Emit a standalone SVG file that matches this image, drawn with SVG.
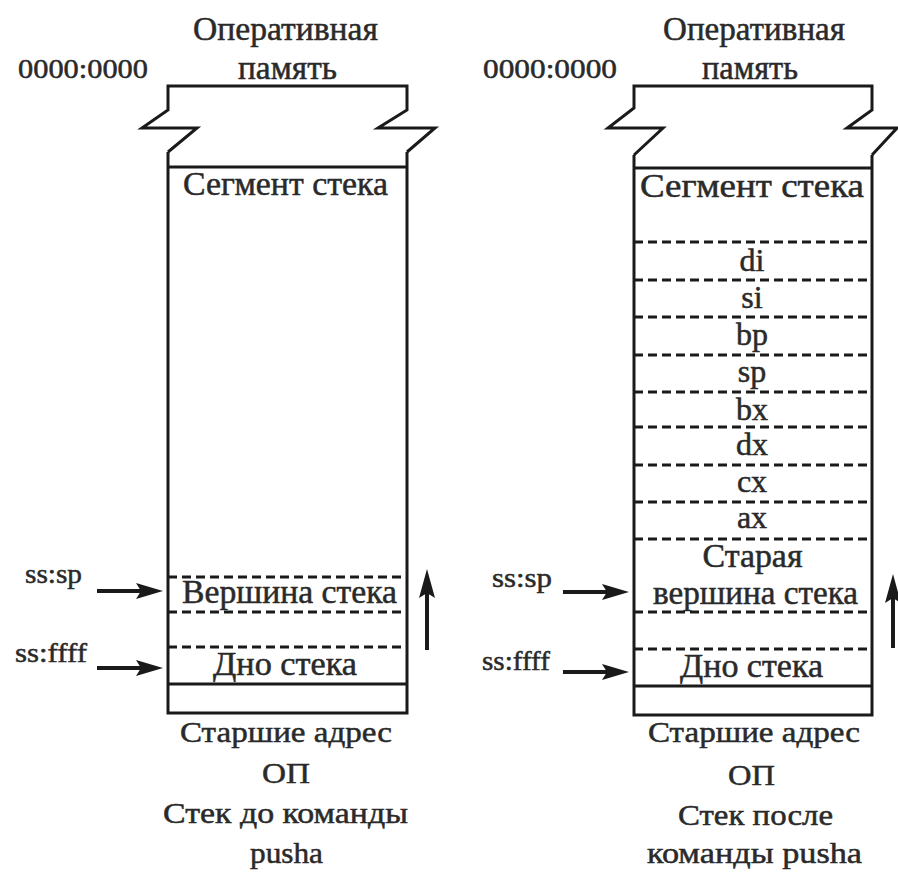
<svg xmlns="http://www.w3.org/2000/svg" width="898" height="873" viewBox="0 0 898 873">
<style>
.ln{stroke:#1a1a1a;stroke-width:3;fill:none;stroke-linejoin:miter}
.ds{stroke:#1a1a1a;stroke-width:3;fill:none;stroke-dasharray:9 5}
.ar{stroke:#1a1a1a;stroke-width:4;fill:none}
.hd{fill:#1a1a1a;stroke:none}
text{fill:#2a2a2a;stroke:#2a2a2a;stroke-width:0.5}
.t{font-size:33px;text-anchor:middle}
.s{font-size:30px;text-anchor:middle}
.r{font-size:32px;text-anchor:middle}
.l{font-size:28px}
</style>
<rect width="898" height="873" fill="#fff"/>

<g id="left-stack" font-family="Liberation Serif, Times New Roman, serif">
<g id="left-memory">
<text class="t" x="285.5" y="40" textLength="185" lengthAdjust="spacingAndGlyphs">Оперативная</text>
<text class="t" x="287.5" y="79" textLength="99" lengthAdjust="spacingAndGlyphs">память</text>
<text class="l" x="18" y="78" textLength="130" lengthAdjust="spacingAndGlyphs">0000:0000</text>
<path class="ln" d="M168,152 L197,128 L142,128 L168,110 L168,86 L407,86 L407,110 L378,128 L435,128 L407,152"/>
</g>
<g id="left-segment">
<path class="ln" d="M168,152 L168,713 L407,713 L407,152"/>
<line class="ln" x1="168" y1="167" x2="407" y2="167"/>
<text class="t" x="285.5" y="195" textLength="205" lengthAdjust="spacingAndGlyphs">Сегмент стека</text>
</g>
<g id="left-top">
<line class="ds" x1="168" y1="577" x2="407" y2="577"/>
<line class="ds" x1="168" y1="612" x2="407" y2="612"/>
<text class="t" x="289.5" y="603" textLength="215" lengthAdjust="spacingAndGlyphs">Вершина стека</text>
</g>
<g id="left-bottom">
<line class="ds" x1="168" y1="647" x2="407" y2="647"/>
<text class="t" x="285" y="675" textLength="144" lengthAdjust="spacingAndGlyphs">Дно стека</text>
<line class="ln" x1="168" y1="684" x2="407" y2="684"/>
</g>
<g id="left-labels">
<text class="l" x="25" y="583" textLength="57" lengthAdjust="spacingAndGlyphs">ss:sp</text>
<text class="l" x="15" y="662" textLength="72" lengthAdjust="spacingAndGlyphs">ss:ffff</text>
<text class="s" x="286" y="742" textLength="212" lengthAdjust="spacingAndGlyphs">Старшие адрес</text>
<text class="s" x="286" y="783" textLength="48" lengthAdjust="spacingAndGlyphs">ОП</text>
<text class="s" x="285.5" y="823" textLength="245" lengthAdjust="spacingAndGlyphs">Стек до команды</text>
<text class="s" x="286.5" y="863" textLength="73" lengthAdjust="spacingAndGlyphs">pusha</text>
</g>
</g>

<g id="right-stack" font-family="Liberation Serif, Times New Roman, serif">
<g id="right-memory">
<text class="t" x="754" y="40" textLength="182" lengthAdjust="spacingAndGlyphs">Оперативная</text>
<text class="t" x="750" y="79" textLength="96" lengthAdjust="spacingAndGlyphs">память</text>
<text class="l" x="483" y="78" textLength="134" lengthAdjust="spacingAndGlyphs">0000:0000</text>
<path class="ln" d="M634,155 L663,128 L608,128 L634,108 L634,86 L872,86 L872,110 L847,128 L897,128 L872,155"/>
</g>
<g id="right-segment">
<path class="ln" d="M634,155 L634,715 L872,715 L872,155"/>
<line class="ln" x1="634" y1="168" x2="872" y2="168"/>
<text class="t" x="752" y="197" textLength="224" lengthAdjust="spacingAndGlyphs">Сегмент стека</text>
</g>
<g id="right-registers">
<line class="ds" x1="634" y1="242" x2="872" y2="242"/>
<text class="r" x="752" y="271">di</text>
<line class="ds" x1="634" y1="280" x2="872" y2="280"/>
<text class="r" x="752" y="308">si</text>
<line class="ds" x1="634" y1="317" x2="872" y2="317"/>
<text class="r" x="752" y="345">bp</text>
<line class="ds" x1="634" y1="355" x2="872" y2="355"/>
<text class="r" x="752" y="382">sp</text>
<line class="ds" x1="634" y1="392" x2="872" y2="392"/>
<text class="r" x="752" y="420">bx</text>
<line class="ds" x1="634" y1="427" x2="872" y2="427"/>
<text class="r" x="752" y="455">dx</text>
<line class="ds" x1="634" y1="465" x2="872" y2="465"/>
<text class="r" x="752" y="492">cx</text>
<line class="ds" x1="634" y1="502" x2="872" y2="502"/>
<text class="r" x="752" y="528">ax</text>
<line class="ds" x1="634" y1="539" x2="872" y2="539"/>
</g>
<g id="right-top">
<text class="t" x="752.5" y="567" textLength="100" lengthAdjust="spacingAndGlyphs">Старая</text>
<text class="t" x="755.5" y="604" textLength="205" lengthAdjust="spacingAndGlyphs">вершина стека</text>
<line class="ds" x1="634" y1="612" x2="872" y2="612"/>
</g>
<g id="right-bottom">
<line class="ds" x1="634" y1="649" x2="872" y2="649"/>
<text class="t" x="751.5" y="677" textLength="143" lengthAdjust="spacingAndGlyphs">Дно стека</text>
<line class="ln" x1="634" y1="686" x2="872" y2="686"/>
</g>
<g id="right-labels">
<text class="l" x="492" y="587" textLength="60" lengthAdjust="spacingAndGlyphs">ss:sp</text>
<text class="l" x="482" y="670" textLength="68" lengthAdjust="spacingAndGlyphs">ss:ffff</text>
<text class="s" x="754" y="742" textLength="212" lengthAdjust="spacingAndGlyphs">Старшие адрес</text>
<text class="s" x="751.5" y="785" textLength="47" lengthAdjust="spacingAndGlyphs">ОП</text>
<text class="s" x="755.5" y="825" textLength="155" lengthAdjust="spacingAndGlyphs">Стек после</text>
<text class="s" x="754.5" y="863" textLength="215" lengthAdjust="spacingAndGlyphs">команды pusha</text>
</g>
</g>

<g id="connectors">
<line class="ar" x1="97" y1="591" x2="145" y2="591"/>
<polygon class="hd" points="163,591 136,583 141,591 136,599"/>
<line class="ar" x1="97" y1="668" x2="145" y2="668"/>
<polygon class="hd" points="163,668 136,660 141,668 136,676"/>
<line class="ar" x1="427" y1="650" x2="427" y2="590"/>
<polygon class="hd" points="427,569 419,598 427,593 435,598"/>
<line class="ar" x1="563" y1="592" x2="611" y2="592"/>
<polygon class="hd" points="629,592 602,584 607,592 602,600"/>
<line class="ar" x1="563" y1="672" x2="611" y2="672"/>
<polygon class="hd" points="629,672 602,664 607,672 602,680"/>
<line class="ar" x1="893" y1="648" x2="893" y2="595"/>
<polygon class="hd" points="893,574 885,603 893,598 901,603"/>
</g>
</svg>
